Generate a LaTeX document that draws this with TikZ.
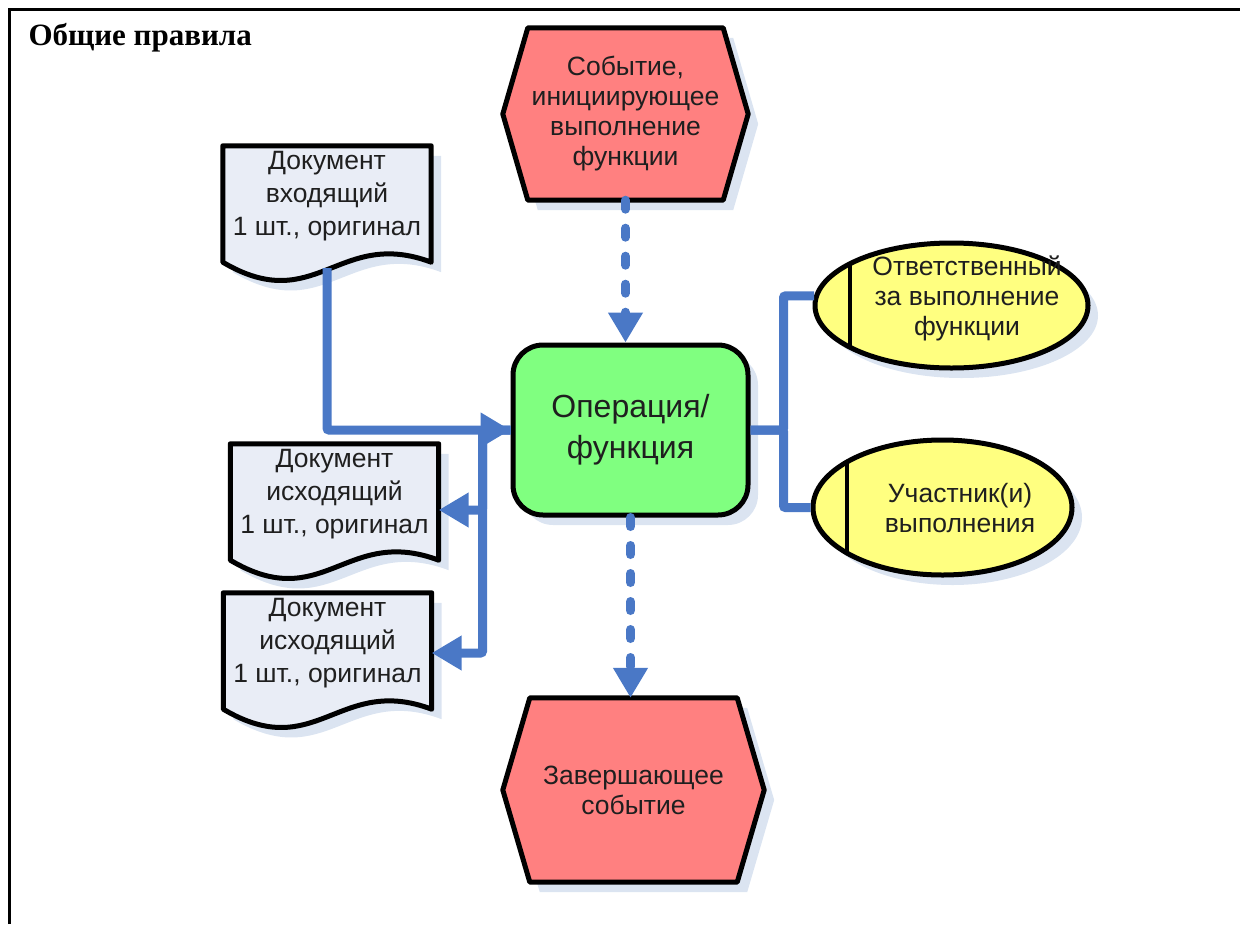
\documentclass[tikz,border=0pt]{standalone}
\usepackage{fontspec}
\setmainfont{Liberation Sans}
\newfontfamily\headfont{Liberation Serif}
\usetikzlibrary{arrows.meta,positioning,shapes.geometric,shadows}
\pgfdeclarelayer{bg}
\pgfsetlayers{bg,main}
\definecolor{evtred}{HTML}{FF8080}
\definecolor{fngreen}{HTML}{80FF80}
\definecolor{docgray}{HTML}{E9EDF6}
\definecolor{roleyel}{HTML}{FFFF80}
\definecolor{linkblue}{HTML}{4A78C6}
\definecolor{shadowc}{HTML}{DBE4F1}
\newcommand{\eventshape}[2]{%
  \draw[thickline, fill=evtred, shadowed] (#1.north west) -- (#1.north east)
    -- ([xshift=#2pt]#1.east) -- (#1.south east) -- (#1.south west)
    -- ([xshift=-#2pt]#1.west) -- cycle;}
\newcommand{\docshape}[1]{%
  \draw[thickline, fill=docgray, shadowed] (#1.north west) -- (#1.north east)
    -- ([yshift=-16pt]#1.south east) .. controls +(-93,-35) and +(93,55)
    .. ([yshift=-16pt]#1.south west) -- cycle;}

\begin{document}
\begin{tikzpicture}[x=1pt, y=-1pt,
   shadowed/.style={drop shadow={shadow xshift=10pt, shadow yshift=-10pt,
      fill=shadowc, opacity=1}},
   thickline/.style={draw=black, line width=5pt, line join=round},
   txt/.style={align=center, inner sep=0pt, text=black!88,
      font=\fontsize{26.5}{30}\selectfont},
   docbox/.style={txt, font=\fontsize{26.5}{33}\selectfont,
      minimum width=208pt, minimum height=100pt},
   fnbox/.style={txt, thickline, fill=fngreen, shadowed, rounded corners=30pt,
      minimum width=235pt, minimum height=170pt,
      font=\fontsize{32}{41}\selectfont},
   rolebox/.style={ellipse, thickline, fill=roleyel, shadowed, inner sep=0pt},
   lane/.style={line width=3.5pt},
   conn/.style={draw=linkblue, line width=9pt, rounded corners=2pt},
   arrowtip/.style={-{Triangle[length=30pt, width=33pt]}},
   dconn/.style={conn, arrowtip, line cap=round, dash pattern=on 9pt off 19pt}
]
\useasboundingbox (0,0) rectangle (1240,924);
\draw[line width=3pt] (9,924) -- (9,9) -- (1240,9);
\node[anchor=base west, font={\headfont\fontsize{31}{37}\selectfont\bfseries}]
   (title) at (25,45) {Общие правила};

\node[txt, minimum width=195pt, minimum height=172pt] (start) at (625.5,114)
   {Событие,\\инициирующее\\выполнение\\функции};
\node[fnbox] (fn) at (630.5,430) {Операция/\\функция};
\node[txt, minimum width=207pt, minimum height=184pt] (stop) at (633.5,790)
   {Завершающее\\событие};
\node[docbox] (din) at (327,196) {Документ\\входящий\\1 шт., оригинал};
\node[docbox] (dout1) at (334.5,494) {Документ\\исходящий\\1 шт., оригинал};
\node[docbox] (dout2) at (327.5,643) {Документ\\исходящий\\1 шт., оригинал};
\node[rolebox, minimum width=273pt, minimum height=125pt] (resp)
   at (951.5,305.5) {};
\node[txt] (resptxt) at (967,298) {Ответственный\\за выполнение\\функции};
\node[rolebox, minimum width=259pt, minimum height=135pt] (part)
   at (942.5,507.5) {};
\node[txt] (parttxt) at (960,508) {Участник(и)\\выполнения};

\begin{pgfonlayer}{bg}
\eventshape{start}{25}
\eventshape{stop}{27}
\docshape{din}
\docshape{dout1}
\docshape{dout2}
\end{pgfonlayer}

\draw[lane] ([xshift=-101.5pt, yshift=42pt]resp.center) -- ++(0,84);
\draw[lane] ([xshift=-95.5pt, yshift=45.5pt]part.center) -- ++(0,91);

\draw[conn, arrowtip] ([yshift=-22pt]din.south) |- (fn.west);
\draw[conn, arrowtip] (fn.west) -- ++(-28,0) |- ([yshift=-16pt]dout1.east);
\draw[conn, arrowtip] (fn.west) -- ++(-28,0) |- ([yshift=-10pt]dout2.east);
\draw[conn] (fn.east) -- ++(33,0) |- (resp.176);
\draw[conn] (fn.east) -- ++(33,0) |- (part.west);
\draw[dconn] (start.south) -- (start.south |- fn.north);
\draw[dconn] (fn.south) -- (fn.south |- stop.north);
\end{tikzpicture}
\end{document}
